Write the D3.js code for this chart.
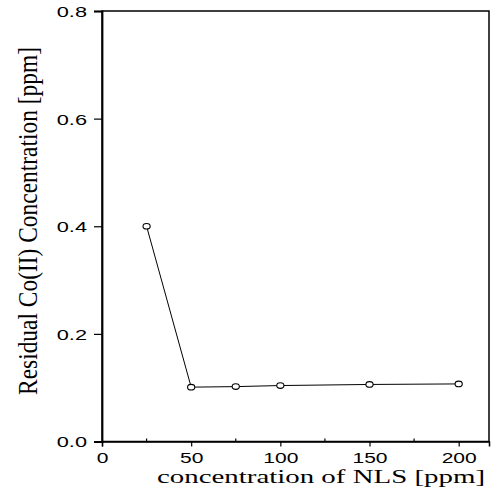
<!DOCTYPE html>
<html>
<head>
<meta charset="utf-8">
<script src="https://cdn.jsdelivr.net/npm/d3@7"></script>
<style>
  body { margin: 0; background: #fff; }
  svg { display: block; }
</style>
</head>
<body>
<div id="chart"></div>
<script>
// Data
const nlsConc = [25, 50, 75, 100, 150, 200]
const residualCo = [0.40, 0.101, 0.102, 0.104, 0.106, 0.107]
const xTicks = [0, 50, 100, 150, 200]
const xMinorTicks = [25, 75, 125, 175]
const yTicks = [0, 0.2, 0.4, 0.6, 0.8]

const width = 497
const height = 492
const stretch = 1.45 // the scan is wider than it is tall

const svg = d3.select('#chart').append('svg')
  .attr('width', width)
  .attr('height', height)

const x = d3.scaleLinear().domain([0, 217]).range([102, 489])
const y = d3.scaleLinear().domain([0, 0.8]).range([441.5, 11])

// widen text glyphs like in the scan
function widen(sel) {
  sel.each(function () {
    const w = this.getComputedTextLength()
    d3.select(this).attr('textLength', w * stretch).attr('lengthAdjust', 'spacingAndGlyphs')
  })
}

// Frame
svg.append('rect')
  .attr('x', x.range()[0])
  .attr('y', y.range()[1])
  .attr('width', x.range()[1] - x.range()[0])
  .attr('height', y.range()[0] - y.range()[1])
  .attr('fill', 'none')
  .attr('stroke', '#000')
  .attr('stroke-width', 1.5)

// X axis
const gx = svg.append('g')
  .attr('transform', `translate(0,${y(0)})`)
  .call(d3.axisBottom(x).tickValues(xTicks).tickSize(5).tickFormat(d3.format('d')))
gx.select('.domain').attr('stroke-width', 1.5)
gx.selectAll('.tick line').attr('stroke-width', 1.2)
gx.selectAll('.tick text')
  .attr('y', 21.5)
  .attr('dy', 0)
  .style('font-family', '"Liberation Sans", Arial, sans-serif')
  .style('font-size', '14.5px')
  .attr('fill', '#000')
  .call(widen)

svg.append('g')
  .selectAll('line')
  .data(xMinorTicks)
  .join('line')
  .attr('x1', d => x(d))
  .attr('x2', d => x(d))
  .attr('y1', y(0))
  .attr('y2', y(0) - 3)
  .attr('stroke', '#000')
  .attr('stroke-width', 1.2)

// Y axis
const gy = svg.append('g')
  .attr('transform', `translate(${x.range()[0]},0)`)
  .call(d3.axisLeft(y).tickValues(yTicks).tickSize(8).tickPadding(7).tickFormat(d3.format('.1f')))
gy.select('.domain').attr('stroke-width', 1.8)
gy.selectAll('.tick line').attr('stroke-width', 1.2)
gy.selectAll('.tick text')
  .attr('dy', '0.36em')
  .style('font-family', '"Liberation Sans", Arial, sans-serif')
  .style('font-size', '15px')
  .attr('fill', '#000')
  .call(widen)

// Line and markers
const pts = nlsConc.map((c, i) => ({ c, v: residualCo[i] }))

svg.append('path')
  .datum(pts)
  .attr('fill', 'none')
  .attr('stroke', '#000')
  .attr('stroke-width', 1)
  .attr('d', d3.line().x(d => x(d.c)).y(d => y(d.v)))

svg.append('g')
  .selectAll('ellipse')
  .data(pts)
  .join('ellipse')
  .attr('cx', d => x(d.c))
  .attr('cy', d => y(d.v))
  .attr('rx', 3.6)
  .attr('ry', 2.8)
  .attr('fill', '#fff')
  .attr('stroke', '#000')
  .attr('stroke-width', 1.1)

// Axis titles
svg.append('text')
  .attr('x', 321)
  .attr('y', 483)
  .attr('text-anchor', 'middle')
  .attr('textLength', 328)
  .attr('lengthAdjust', 'spacingAndGlyphs')
  .style('font-family', '"Liberation Serif", "Times New Roman", serif')
  .style('font-size', '18.5px')
  .text('concentration of NLS [ppm]')

svg.append('text')
  .attr('transform', `translate(37,221) rotate(-90) scale(1,1.45)`)
  .attr('text-anchor', 'middle')
  .attr('textLength', 348)
  .attr('lengthAdjust', 'spacingAndGlyphs')
  .style('font-family', '"Liberation Serif", "Times New Roman", serif')
  .style('font-size', '19px')
  .text('Residual  Co(II)  Concentration [ppm]')
</script>
</body>
</html>
